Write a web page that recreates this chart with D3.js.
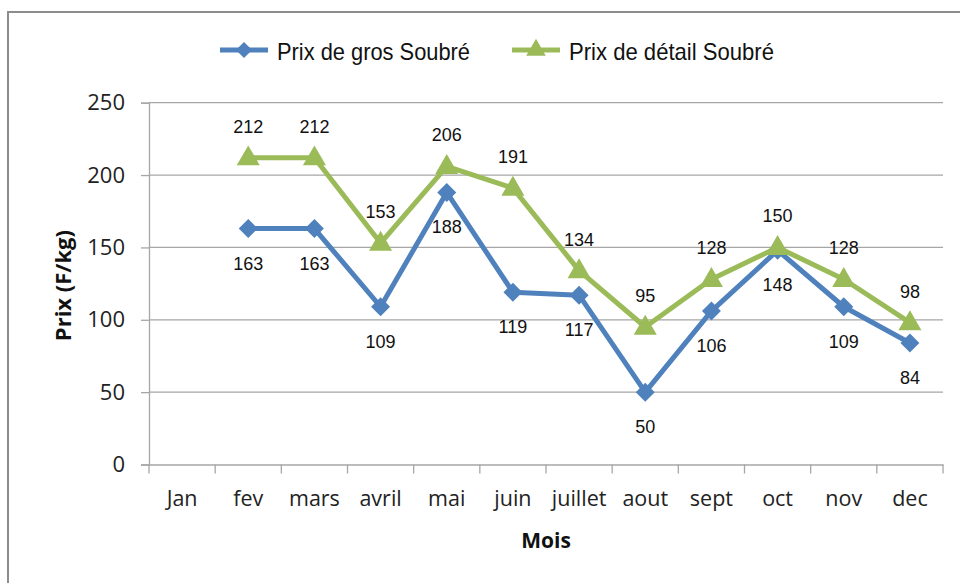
<!DOCTYPE html>
<html>
<head>
<meta charset="utf-8">
<script src="https://cdn.jsdelivr.net/npm/d3@7"></script>
<style>
  html, body { margin: 0; padding: 0; background: #fff; }
  svg { display: block; }
</style>
</head>
<body>
<svg id="chart" width="960" height="583"></svg>
<script>
const months = ["Jan", "fev", "mars", "avril", "mai", "juin", "juillet", "aout", "sept", "oct", "nov", "dec"];
const prixGros = [null, 163, 163, 109, 188, 119, 117, 50, 106, 148, 109, 84];
const prixDetail = [null, 212, 212, 153, 206, 191, 134, 95, 128, 150, 128, 98];
const seriesNames = ["Prix de gros Soubré", "Prix de détail Soubré"];
const yTicks = [0, 50, 100, 150, 200, 250];
const yTitle = "Prix (F/kg)";
const xTitle = "Mois";

(function () {
const blue = "#4F81BD", green = "#9BBB59";
const svg = d3.select("#chart");

// outer border
svg.append("rect").attr("x", 8).attr("y", 12).attr("width", 980).attr("height", 600)
  .attr("fill", "#fff").attr("stroke", "#8c8c8c").attr("stroke-width", 2);

const pLeft = 149, pRight = 943, pTop = 102.7, pBottom = 464.5;
const x = d3.scaleBand().domain(months).range([pLeft, pRight]);
const y = d3.scaleLinear().domain([0, 250]).range([pBottom, pTop]);

const tickFont = "'Open Sans', Lato, sans-serif";

// gridlines
svg.append("g").selectAll("line").data(yTicks.filter(d => d > 0)).join("line")
  .attr("x1", pLeft).attr("x2", pRight)
  .attr("y1", d => y(d)).attr("y2", d => y(d))
  .attr("stroke", "#a6a6a6").attr("stroke-width", 1.3);

// y axis
const yAxis = svg.append("g").attr("transform", `translate(${pLeft},0)`)
  .call(d3.axisLeft(y).tickValues(yTicks).tickSize(8).tickPadding(16));
yAxis.select(".domain").attr("stroke", "#a6a6a6").attr("stroke-width", 1.3);
yAxis.selectAll(".tick line").attr("stroke", "#a6a6a6").attr("stroke-width", 1.3);
yAxis.selectAll("text").attr("font-family", tickFont).attr("font-size", 22).attr("fill", "#222");

// x axis
const xAxis = svg.append("g").attr("transform", `translate(0,${pBottom})`)
  .call(d3.axisBottom(x).tickSize(0).tickPadding(26));
xAxis.select(".domain").attr("stroke", "#a6a6a6").attr("stroke-width", 1.3);
xAxis.selectAll("text").attr("font-family", tickFont).attr("font-size", 21.5).attr("fill", "#222");
// category boundary ticks
const bounds = months.map(m => x(m)).concat([pRight]);
svg.append("g").selectAll("line").data(bounds).join("line")
  .attr("x1", d => d).attr("x2", d => d)
  .attr("y1", pBottom).attr("y2", pBottom + 9)
  .attr("stroke", "#a6a6a6").attr("stroke-width", 1.3);

// axis titles
svg.append("text").attr("transform", `translate(62,${(pTop + pBottom) / 2 + 2}) rotate(-90)`)
  .attr("text-anchor", "middle").attr("dominant-baseline", "central")
  .attr("font-family", tickFont).attr("font-weight", "bold").attr("font-size", 22)
  .attr("fill", "#111").text(yTitle);
svg.append("text").attr("x", (pLeft + pRight) / 2).attr("y", 540)
  .attr("text-anchor", "middle").attr("dominant-baseline", "central")
  .attr("font-family", tickFont).attr("font-weight", "bold").attr("font-size", 21)
  .attr("fill", "#111").text(xTitle);

const cx = m => x(m) + x.bandwidth() / 2;
const line = d3.line().defined(d => d.v != null).x(d => cx(d.m)).y(d => y(d.v));
const gros = months.map((m, i) => ({ m, v: prixGros[i] }));
const detail = months.map((m, i) => ({ m, v: prixDetail[i] }));

const diamond = d3.symbol().type(d3.symbolSquare).size(180);
const triangle = d3.symbol().type(d3.symbolTriangle).size(230);

svg.append("path").datum(gros).attr("d", line).attr("fill", "none")
  .attr("stroke", blue).attr("stroke-width", 5).attr("stroke-linejoin", "round");
svg.append("g").selectAll("path").data(gros.filter(d => d.v != null)).join("path")
  .attr("d", diamond).attr("fill", blue)
  .attr("transform", d => `translate(${cx(d.m)},${y(d.v)}) rotate(45)`);

svg.append("path").datum(detail).attr("d", line).attr("fill", "none")
  .attr("stroke", green).attr("stroke-width", 5).attr("stroke-linejoin", "round");
svg.append("g").selectAll("path").data(detail.filter(d => d.v != null)).join("path")
  .attr("d", triangle).attr("fill", green)
  .attr("transform", d => `translate(${cx(d.m)},${y(d.v) + 1})`);

// data labels
const labFont = "'Liberation Sans', Arial, sans-serif";
svg.append("g").selectAll("text").data(gros.filter(d => d.v != null)).join("text")
  .attr("x", d => cx(d.m)).attr("y", d => y(d.v) + 35)
  .attr("text-anchor", "middle").attr("dominant-baseline", "central")
  .attr("font-family", labFont).attr("font-size", 18).attr("fill", "#111")
  .text(d => d.v);
svg.append("g").selectAll("text").data(detail.filter(d => d.v != null)).join("text")
  .attr("x", d => cx(d.m)).attr("y", d => y(d.v) - 31)
  .attr("text-anchor", "middle").attr("dominant-baseline", "central")
  .attr("font-family", labFont).attr("font-size", 18).attr("fill", "#111")
  .text(d => d.v);

// legend
const legFont = "'Liberation Sans Narrow', 'Arial Narrow', 'Liberation Sans', sans-serif";
const legend = [
  { name: seriesNames[0], color: blue, sym: diamond, rot: 45, x0: 220, w: 193 },
  { name: seriesNames[1], color: green, sym: triangle, rot: 0, x0: 512, w: 205 }
];
const lg = svg.append("g").selectAll("g").data(legend).join("g")
  .attr("transform", d => `translate(${d.x0},50)`);
lg.append("line").attr("x1", 0).attr("x2", 48).attr("y1", 0).attr("y2", 0)
  .attr("stroke", d => d.color).attr("stroke-width", 5);
lg.append("path").attr("d", d => d.sym()).attr("fill", d => d.color)
  .attr("transform", d => `translate(24,0) rotate(${d.rot}) scale(0.85)`);
lg.append("text").attr("x", 57).attr("y", 1).attr("dominant-baseline", "central")
  .attr("font-family", legFont).attr("font-size", 24).attr("fill", "#111")
  .attr("textLength", d => d.w).attr("lengthAdjust", "spacingAndGlyphs")
  .text(d => d.name);
})();
</script>
</body>
</html>
